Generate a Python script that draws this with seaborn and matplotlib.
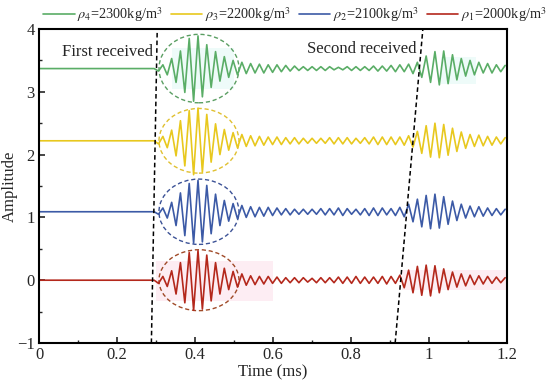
import numpy as np
import pandas as pd
import matplotlib
matplotlib.use("Agg")
import matplotlib.pyplot as plt
import seaborn as sns
from matplotlib.patches import Ellipse, Rectangle
from matplotlib.ticker import MultipleLocator

# ---------------- data ----------------
series_labels = [r"$\rho_4$=2300kg/m$^3$", r"$\rho_3$=2200kg/m$^3$",
                 r"$\rho_2$=2100kg/m$^3$", r"$\rho_1$=2000kg/m$^3$"]
series_colors = ["#5aad66", "#e8c81e", "#3c5aa6", "#b4281c"]
ellipse_colors = ["#5a9e62", "#e0c030", "#3c5296", "#a04a28"]
baselines = [3.37, 2.22, 1.09, 0.0]

onset_time = 0.295          # ms, first extremum sample
half_period = 0.01125       # ms, spacing of the read extrema

# signed extrema (relative to baseline), one per half cycle
green_extrema = [0, -0.04, 0.06, -0.10, 0.16, -0.22, 0.28, -0.38, 0.48, -0.52, 0.52, -0.45, 0.38, -0.30, 0.27, -0.20, 0.19, -0.14, 0.13, -0.10, 0.10,
                 -0.08, 0.08, -0.07, 0.07, -0.07, 0.06, -0.06, 0.06, -0.05, 0.05, -0.04, 0.04, -0.03, 0.03, -0.03, 0.03, -0.03, 0.03, -0.03, 0.03,
                 -0.02, 0.02, -0.02, 0.03, -0.03, 0.03, -0.03, 0.03, -0.03, 0.04, -0.04, 0.04, -0.04, 0.05, -0.05, 0.06, -0.05, 0.07, -0.08, 0.10,
                 -0.14, 0.20, -0.22, 0.27, -0.26, 0.28, -0.24, 0.22, -0.18, 0.16, -0.12, 0.13, -0.10, 0.10, -0.07, 0.08, -0.07, 0.06, -0.05, 0.05]
yellow_extrema = [0, -0.05, 0.07, -0.11, 0.17, -0.24, 0.32, -0.40, 0.48, -0.54, 0.52, -0.50, 0.42, -0.34, 0.27, -0.22, 0.18, -0.15, 0.13, -0.11, 0.10,
                  -0.09, 0.08, -0.08, 0.07, -0.07, 0.06, -0.06, 0.06, -0.06, 0.05, -0.05, 0.05, -0.05, 0.04, -0.04, 0.04, -0.04, 0.04, -0.04, 0.05,
                  -0.05, 0.05, -0.05, 0.05, -0.05, 0.04, -0.04, 0.05, -0.05, 0.06, -0.06, 0.06, -0.06, 0.06, -0.06, 0.06, -0.07, 0.08,
                  -0.10, 0.15, -0.20, 0.24, -0.26, 0.28, -0.27, 0.26, -0.23, 0.20, -0.17, 0.14, -0.12, 0.10, -0.09, 0.09, -0.08, 0.07, -0.07, 0.06, -0.05, 0.05]
blue_extrema = [0, -0.04, 0.06, -0.10, 0.15, -0.22, 0.30, -0.38, 0.45, -0.50, 0.50, -0.48, 0.42, -0.35, 0.28, -0.22, 0.18, -0.15, 0.13, -0.11, 0.10,
                -0.09, 0.08, -0.08, 0.07, -0.07, 0.07, -0.06, 0.06, -0.05, 0.05, -0.05, 0.04, -0.04, 0.04, -0.04, 0.04, -0.04, 0.05, -0.05, 0.05,
                -0.05, 0.06, -0.06, 0.05, -0.04, 0.04, -0.05, 0.05, -0.06, 0.06, -0.06, 0.06, -0.05, 0.05, -0.06, 0.07, -0.08,
                0.12, -0.16, 0.20, -0.24, 0.26, -0.27, 0.28, -0.26, 0.24, -0.20, 0.17, -0.14, 0.12, -0.10, 0.09, -0.08, 0.08, -0.07, 0.06, -0.06, 0.05, -0.05, 0.04]
red_extrema = [0, -0.05, 0.06, -0.10, 0.15, -0.22, 0.28, -0.36, 0.44, -0.48, 0.47, -0.46, 0.40, -0.33, 0.28, -0.22, 0.19, -0.15, 0.14, -0.11, 0.10,
               -0.08, 0.07, -0.07, 0.06, -0.06, 0.06, -0.05, 0.05, -0.05, 0.04, -0.04, 0.04, -0.04, 0.04, -0.03, 0.03, -0.04, 0.04, -0.04, 0.04,
               -0.04, 0.05, -0.05, 0.05, -0.05, 0.06, -0.05, 0.05, -0.05, 0.05, -0.05, 0.06, -0.06, 0.06, -0.05,
               0.08, -0.12, 0.16, -0.20, 0.22, -0.24, 0.24, -0.25, 0.23, -0.20, 0.18, -0.15, 0.13, -0.11, 0.10, -0.09, 0.08, -0.07, 0.07, -0.06, 0.06, -0.05, 0.05, -0.04, 0.04]
all_extrema = [green_extrema, yellow_extrema, blue_extrema, red_extrema]

# dashed arrival lines (time at amplitude -1 and 4)
first_arrival_t = [0.288, 0.303]
second_arrival_t = [0.913, 0.984]
arrival_amp = [-1, 4]

# ellipses round the first arrivals
ellipse_t = 0.41
ellipse_w = 0.205
ellipse_h = [1.09, 1.03, 1.04, 0.97]

# faint highlight patches seen behind the red and green traces: (t0, t1, amp0, amp1)
pink_patches = [(0.30, 0.60, -0.33, 0.30), (0.93, 1.20, -0.16, 0.16)]
cyan_patches = [(0.34, 0.50, 3.05, 3.70), (1.03, 1.12, 3.12, 3.55)]

x_ticks = [0, 0.2, 0.4, 0.6, 0.8, 1.0, 1.2]
x_ticklabels = ["0", "0.2", "0.4", "0.6", "0.8", "1", "1.2"]
y_ticks = [-1, 0, 1, 2, 3, 4]
y_ticklabels = ["\u22121", "0", "1", "2", "3", "4"]

# ---------------- build table ----------------
rows = []
for lab, base, ext in zip(series_labels, baselines, all_extrema):
    rows.append((lab, 0.0, base))
    for k, v in enumerate(ext):
        rows.append((lab, onset_time + k * half_period, base + v))
df = pd.DataFrame(rows, columns=["series", "time", "amp"])

# ---------------- style ----------------
sns.set_style("ticks")
plt.rcParams["font.family"] = ["Liberation Serif", "DejaVu Serif"]
plt.rcParams["mathtext.fontset"] = "stix"

fig = plt.figure(figsize=(5.5, 3.92), dpi=100)
ax = fig.add_axes([0.071, 0.125, 0.851, 0.801])

for (t0, t1, a0, a1) in pink_patches:
    ax.add_patch(Rectangle((t0, a0), t1 - t0, a1 - a0, facecolor="#fdedf3",
                           edgecolor="none", zorder=0))
for (t0, t1, a0, a1) in cyan_patches:
    ax.add_patch(Rectangle((t0, a0), t1 - t0, a1 - a0, facecolor="#eefbf9",
                           edgecolor="none", zorder=0))

sns.lineplot(data=df, x="time", y="amp", hue="series", hue_order=series_labels,
             palette=series_colors, estimator=None, sort=False, linewidth=1.2,
             ax=ax, legend=False)

for c, base, h in zip(ellipse_colors, baselines, ellipse_h):
    ax.add_patch(Ellipse((ellipse_t, base), ellipse_w, h, fill=False,
                         edgecolor=c, linestyle=(0, (3, 2)), linewidth=1.0))

ax.plot(first_arrival_t, arrival_amp, color="black", linestyle=(0, (3, 2)), linewidth=1.1)
ax.plot(second_arrival_t, arrival_amp, color="black", linestyle=(0, (3, 2)), linewidth=1.1)

ax.text(0.291, 3.64, "First received", ha="right", va="center", fontsize=12)
ax.text(0.968, 3.68, "Second received", ha="right", va="center", fontsize=12)

ax.set_xlim(0, 1.2)
ax.set_ylim(-1, 4)
ax.set_xticks(x_ticks)
ax.set_xticklabels(x_ticklabels)
ax.set_yticks(y_ticks)
ax.set_yticklabels(y_ticklabels)
ax.xaxis.set_minor_locator(MultipleLocator(0.1))
ax.yaxis.set_minor_locator(MultipleLocator(0.5))
ax.tick_params(which="major", direction="in", length=4, width=1.2, labelsize=12, pad=3)
ax.tick_params(which="minor", direction="in", length=2.5, width=1.0)
for s in ax.spines.values():
    s.set_linewidth(1.5)
    s.set_color("black")
ax.set_xlabel("Time (ms)", fontsize=12, labelpad=1)
ax.set_ylabel("Amplitude", fontsize=12)
ax.yaxis.set_label_coords(-0.045, 0.5)

handles = ax.get_lines()[:4]
fig.legend(handles, series_labels, loc="center", bbox_to_anchor=(0.536, 0.963),
           ncol=4, frameon=False, fontsize=10.3, handlelength=2.2, handletextpad=0.2,
           columnspacing=0.55, borderaxespad=0, borderpad=0)

fig.savefig("out.png", dpi=100)
